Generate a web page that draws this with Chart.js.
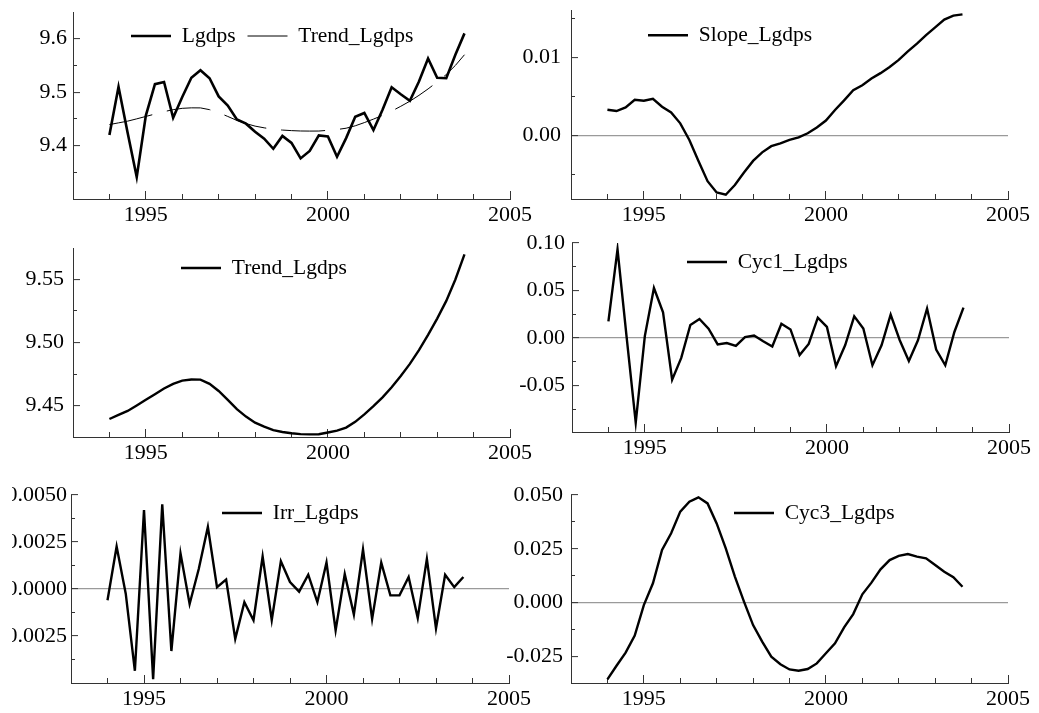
<!DOCTYPE html>
<html><head><meta charset="utf-8">
<script src="https://cdn.jsdelivr.net/npm/chart.js@4"></script>
<style>
html,body{margin:0;padding:0;background:#fff;overflow:hidden;width:1039px;height:713px;position:relative}
canvas{position:absolute}
</style></head><body>
<script>
const quarters = [1994,1994.25,1994.5,1994.75,1995,1995.25,1995.5,1995.75,1996,1996.25,1996.5,1996.75,1997,1997.25,1997.5,1997.75,1998,1998.25,1998.5,1998.75,1999,1999.25,1999.5,1999.75,2000,2000.25,2000.5,2000.75,2001,2001.25,2001.5,2001.75,2002,2002.25,2002.5,2002.75,2003,2003.25,2003.5,2003.75];
const lgdps = [9.420,9.510,9.424,9.341,9.456,9.515,9.519,9.452,9.491,9.527,9.541,9.526,9.492,9.475,9.449,9.441,9.426,9.413,9.394,9.418,9.405,9.376,9.390,9.419,9.417,9.379,9.414,9.454,9.461,9.429,9.467,9.509,9.496,9.484,9.520,9.563,9.527,9.526,9.570,9.610];
const trendLgdps = [9.4393,9.4425,9.4457,9.4500,9.4545,9.4590,9.4635,9.4672,9.4697,9.4706,9.4705,9.4672,9.4615,9.4545,9.4471,9.4412,9.4364,9.4332,9.4305,9.4290,9.4280,9.4273,9.4271,9.4272,9.4286,9.4300,9.4325,9.4370,9.4430,9.4495,9.4565,9.4645,9.4735,9.4830,9.4940,9.5060,9.5190,9.5330,9.5500,9.5700];
const slopeLgdps = [0.00329,0.00312,0.00359,0.00457,0.00444,0.00470,0.00368,0.00295,0.00154,-0.00060,-0.00330,-0.00590,-0.00735,-0.00765,-0.00640,-0.00480,-0.00330,-0.00220,-0.00140,-0.00103,-0.00060,-0.00026,0.00026,0.00100,0.00190,0.00325,0.00450,0.00580,0.00645,0.00730,0.00800,0.00880,0.00970,0.01080,0.01180,0.01290,0.01390,0.01490,0.01540,0.01556];
const cyc1Lgdps = [0.0175,0.0933,0.0010,-0.0890,0.0020,0.0526,0.0270,-0.0440,-0.0210,0.0137,0.0200,0.0098,-0.0067,-0.0053,-0.0084,0.0010,0.0025,-0.0035,-0.0090,0.0150,0.0090,-0.0180,-0.0063,0.0214,0.0116,-0.0298,-0.0077,0.0228,0.0099,-0.0287,-0.0077,0.0246,-0.0024,-0.0242,-0.0024,0.0310,-0.0122,-0.0287,0.0063,0.0320];
const irrLgdps = [-0.0006,0.00226,-0.00025,-0.00435,0.0042,-0.0048,0.0045,-0.0033,0.0019,-0.0008,0.00106,0.0033,0.0001,0.0005,-0.00265,-0.0007,-0.00166,0.00173,-0.00166,0.00148,0.00037,-0.00014,0.00076,-0.0007,0.00141,-0.0022,0.0008,-0.00136,0.0021,-0.0016,0.0014,-0.00034,-0.00034,0.00064,-0.00154,0.0016,-0.0021,0.00076,0.0001,0.00064];
const cyc3Lgdps = [-0.0356,-0.0293,-0.0232,-0.0153,-0.0011,0.0090,0.0245,0.0322,0.0423,0.0469,0.0489,0.0461,0.0368,0.0252,0.0121,0.0005,-0.0104,-0.0181,-0.0251,-0.0286,-0.0310,-0.0316,-0.0308,-0.0282,-0.0235,-0.0189,-0.0115,-0.0053,0.0039,0.0093,0.0155,0.0198,0.0217,0.0226,0.0214,0.0206,0.0175,0.0144,0.0118,0.0074];

const majorYears = [1995, 2000, 2005];
const minorYears = [1994, 1996, 1997, 1998, 1999, 2001, 2002, 2003, 2004];
const yTicks1 = {major:[9.4,9.5,9.6], minor:[9.35,9.45,9.55], dec:1};
const yTicks2 = {major:[0,0.01], minor:[-0.005,0.005,0.015], dec:2};
const yTicks3 = {major:[9.45,9.5,9.55], minor:[9.475,9.525], dec:2};
const yTicks4 = {major:[-0.05,0,0.05,0.1], minor:[-0.075,-0.025,0.025,0.075], dec:2};
const yTicks5 = {major:[-0.0025,0,0.0025,0.005], minor:[-0.00375,-0.00125,0.00125,0.00375], dec:4};
const yTicks6 = {major:[-0.025,0,0.025,0.05], minor:[-0.0125,0.0125,0.0375], dec:3};

const FONT = 'Liberation Serif, Times New Roman, serif';
const TICK_SIZE = 22, LEG_SIZE = 21.5;
const LEG_PAD = 12;
const AXIS_COLOR = '#333';

const insideLegend = {
  id: 'insideLegend',
  beforeLayout(chart) {
    const lg = chart.legend;
    if (lg && !lg.__patched) {
      const orig = lg.fit;
      lg.fit = function() { orig.call(this); this.__h = this.height; this.height = 0; };
      lg.__patched = true;
    }
  },
  afterLayout(chart, args, o) {
    const lg = chart.legend, ca = chart.chartArea;
    if (!lg) return;
    lg.left = ca.left + o.dx - o.pad;
    lg.right = chart.width;
    lg.top = ca.top + o.dy - o.pad - o.fs / 2;
    lg.bottom = lg.top + lg.__h + 20;
  }
};

function series(vals) { return quarters.map((x, i) => ({x: x, y: vals[i]})); }

function panel(p) {
  const cx = p.L - p.yw, cy = p.T - 30;
  const cw = p.R - cx + 40, ch = p.B - cy + 34;
  const c = document.createElement('canvas');
  c.width = cw; c.height = ch;
  c.style.left = cx + 'px'; c.style.top = cy + 'px';
  c.style.width = cw + 'px'; c.style.height = ch + 'px';
  document.body.appendChild(c);
  const yt = p.yt;
  new Chart(c, {
    type: 'line',
    data: { datasets: p.sets.map(s => ({
      label: s.label, data: series(s.vals), borderColor: '#000', borderWidth: s.w || 2.4,
      borderDash: s.dash || [], pointRadius: 0, pointHoverRadius: 0, fill: false, tension: 0,
      xAxisID: 'x', yAxisID: 'y'
    })) },
    options: {
      responsive: false, animation: false, devicePixelRatio: 1,
      layout: { padding: { left: 0, top: 30, right: 40, bottom: 4 } },
      events: [],
      plugins: {
        tooltip: { enabled: false },
        legend: { display: true, position: 'top', align: 'start',
          labels: { usePointStyle: true, pointStyle: 'line', pointStyleWidth: 40, boxHeight: LEG_SIZE,
            padding: LEG_PAD, color: '#000', font: { family: FONT, size: LEG_SIZE } } },
        insideLegend: { dx: p.ldx, dy: p.ldy, pad: LEG_PAD, fs: LEG_SIZE }
      },
      scales: {
        x: { type: 'linear', position: 'bottom', weight: 1, min: 1993, max: 2005,
          afterBuildTicks: s => { s.ticks = majorYears.map(v => ({value: v})); },
          afterFit: s => { s.height = 30; },
          ticks: { autoSkip: false, maxRotation: 0, padding: 11, color: '#000',
            font: { family: FONT, size: TICK_SIZE }, callback: v => String(v) },
          grid: { drawOnChartArea: false, drawTicks: true, tickLength: -8, tickColor: AXIS_COLOR, tickWidth: 1 },
          border: { display: true, color: AXIS_COLOR, width: 1 } },
        x2: { type: 'linear', position: 'bottom', weight: 0, min: 1993, max: 2005,
          afterBuildTicks: s => { s.ticks = minorYears.map(v => ({value: v})); },
          afterFit: s => { s.height = 0; },
          ticks: { display: false },
          grid: { drawOnChartArea: false, drawTicks: true, tickLength: -5, tickColor: AXIS_COLOR, tickWidth: 1 },
          border: { display: false } },
        y: { type: 'linear', position: 'left', weight: 1, min: p.min, max: p.max,
          afterBuildTicks: s => { s.ticks = yt.major.map(v => ({value: v})); },
          afterFit: s => { s.width = p.yw; },
          ticks: { autoSkip: false, padding: p.lp, color: '#000',
            font: { family: FONT, size: TICK_SIZE }, callback: v => Number(v).toFixed(yt.dec) },
          grid: { drawOnChartArea: !!p.zero, drawTicks: true, tickLength: -7,
            color: ctx => (ctx.tick && ctx.tick.value === 0) ? '#9a9a9a' : 'rgba(0,0,0,0)',
            lineWidth: 1.2, tickColor: AXIS_COLOR, tickWidth: 1 },
          border: { display: true, color: AXIS_COLOR, width: 1 } },
        y2: { type: 'linear', position: 'left', weight: 0, min: p.min, max: p.max,
          afterBuildTicks: s => { s.ticks = yt.minor.map(v => ({value: v})); },
          afterFit: s => { s.width = 0; },
          ticks: { display: false },
          grid: { drawOnChartArea: false, drawTicks: true, tickLength: -4, tickColor: AXIS_COLOR, tickWidth: 1 },
          border: { display: false } }
      }
    },
    plugins: [insideLegend]
  });
}

panel({ L: 73, T: 12, R: 510, B: 199, yw: 73, lp: 13, min: 9.3, max: 9.65, yt: yTicks1, zero: false, ldx: 58, ldy: 24,
  sets: [{label: 'Lgdps', vals: lgdps, w: 2.6}, {label: 'Trend_Lgdps', vals: trendLgdps, w: 1, dash: [44, 15]}] });
panel({ L: 571, T: 10, R: 1008, B: 199, yw: 75, lp: 17, min: -0.0082, max: 0.0161, yt: yTicks2, zero: true, ldx: 77, ldy: 25,
  sets: [{label: 'Slope_Lgdps', vals: slopeLgdps}] });
panel({ L: 73, T: 248, R: 510, B: 437, yw: 73, lp: 16, min: 9.425, max: 9.575, yt: yTicks3, zero: false, ldx: 108, ldy: 20,
  sets: [{label: 'Trend_Lgdps', vals: trendLgdps}] });
panel({ L: 572, T: 243, R: 1009, B: 432, yw: 76, lp: 14, min: -0.099, max: 0.1, yt: yTicks4, zero: true, ldx: 115, ldy: 19,
  sets: [{label: 'Cyc1_Lgdps', vals: cyc1Lgdps}] });
panel({ L: 71, T: 495, R: 509, B: 683, yw: 59, lp: 11, min: -0.005, max: 0.005, yt: yTicks5, zero: true, ldx: 151, ldy: 18,
  sets: [{label: 'Irr_Lgdps', vals: irrLgdps}] });
panel({ L: 571, T: 495, R: 1008, B: 683, yw: 75, lp: 15, min: -0.0373, max: 0.05, yt: yTicks6, zero: true, ldx: 163, ldy: 18,
  sets: [{label: 'Cyc3_Lgdps', vals: cyc3Lgdps}] });
</script>
</body></html>
